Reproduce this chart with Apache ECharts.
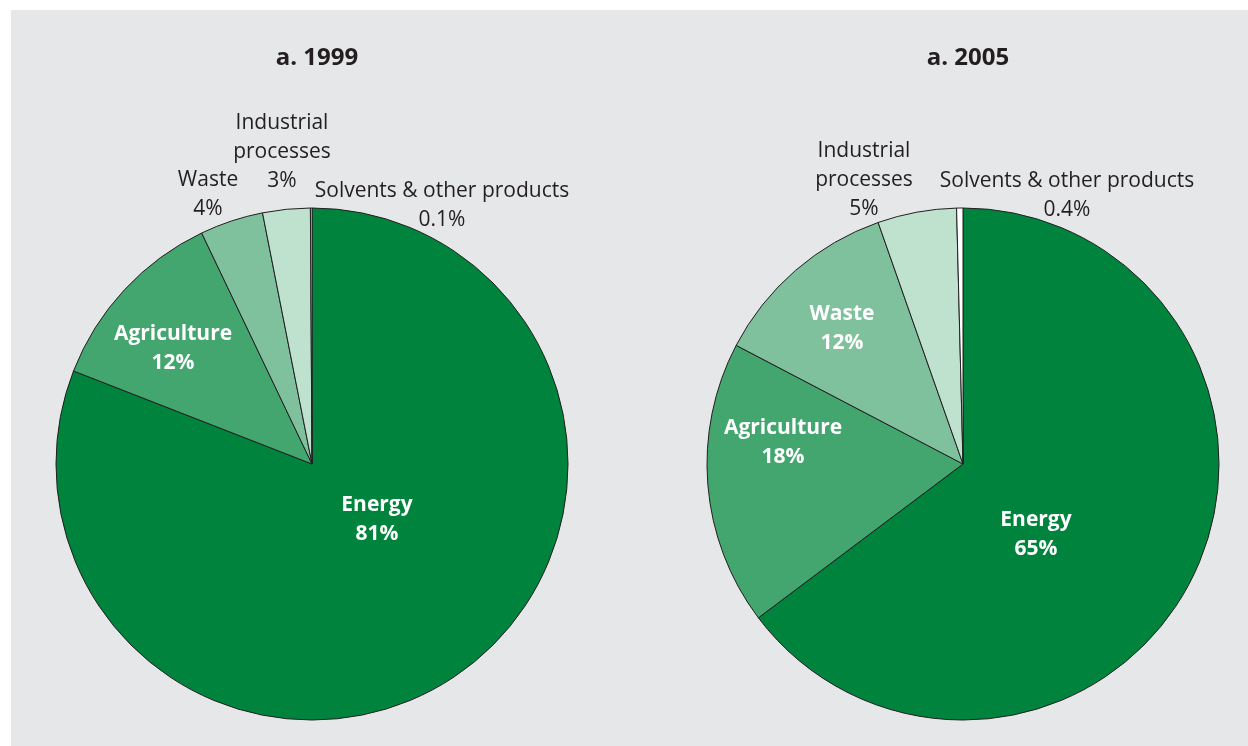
<!DOCTYPE html>
<html>
<head>
<meta charset="utf-8">
<style>
  html, body { margin: 0; padding: 0; background: #ffffff; }
  #chart { width: 1248px; height: 746px; }
</style>
<script src="https://cdn.jsdelivr.net/npm/echarts@6/dist/echarts.min.js"></script>
</head>
<body>
<div id="chart"></div>
<script>
// Greenhouse gas emissions by sector, shares of total (%)
const sectors = ['Energy', 'Agriculture', 'Waste', 'Industrial\nprocesses', 'Solvents & other products'];
const shares1999 = [81, 12, 4, 3, 0.1];
const shares2005 = [65, 18, 12, 5, 0.4];
const titles = ['a. 1999', 'a. 2005'];

const sectorColors = ['#00843d', '#42a66e', '#7fc19d', '#bfe2cf', '#ffffff'];
const FONT = '"Open Sans", "Liberation Sans", sans-serif';
const INK = '#231f20';

// Pie geometry (pixels)
const centers = [[312, 464], [963, 464]];
const RADIUS = 256;

// Label anchors relative to each pie centre (dx, dy)
const labelOffsets = [
  [[65, 56], [-139, -115], [-104, -269], [-30, -312], [130, -258]],
  [[73, 71], [-180, -21], [-121, -135], [-99, -284], [104, -268]]
];
// Which slices carry their label inside (white bold) vs outside (dark regular)
const insideLabels = [
  [true, true, false, false, false],
  [true, true, true, false, false]
];

function buildData(values, s) {
  return values.map((v, i) => {
    const inside = insideLabels[s][i];
    return {
      name: sectors[i],
      value: v,
      itemStyle: { color: sectorColors[i] },
      label: {
        color: inside ? '#ffffff' : INK,
        fontWeight: inside ? 'bold' : 'normal',
        fontSize: 21,
        lineHeight: 29
      }
    };
  });
}

function pieSeries(values, s) {
  return {
    type: 'pie',
    center: centers[s],
    radius: RADIUS,
    startAngle: 90,
    clockwise: true,
    avoidLabelOverlap: false,
    silent: true,
    animation: false,
    itemStyle: { borderColor: INK, borderWidth: 1 },
    label: {
      show: true,
      position: 'inside',
      fontFamily: FONT,
      align: 'center',
      formatter: p => p.name + '\n' + p.value + '%'
    },
    labelLine: { show: false },
    labelLayout: p => {
      const off = labelOffsets[s][p.dataIndex];
      return {
        x: centers[s][0] + off[0],
        y: centers[s][1] + off[1],
        align: 'center',
        verticalAlign: 'middle'
      };
    },
    emphasis: { disabled: true },
    data: buildData(values, s)
  };
}

const chart = echarts.init(document.getElementById('chart'), null, { renderer: 'canvas' });
chart.setOption({
  backgroundColor: '#ffffff',
  animation: false,
  graphic: [{
    type: 'rect',
    z: -10,
    silent: true,
    shape: { x: 11, y: 10, width: 1237, height: 736 },
    style: { fill: '#e6e7e8' }
  }],
  title: titles.map((t, s) => ({
    text: t,
    left: centers[s][0],
    top: 41,
    textAlign: 'center',
    textStyle: { fontFamily: FONT, fontWeight: 'bold', fontSize: 24, color: INK }
  })),
  series: [pieSeries(shares1999, 0), pieSeries(shares2005, 1)]
});
</script>
</body>
</html>
